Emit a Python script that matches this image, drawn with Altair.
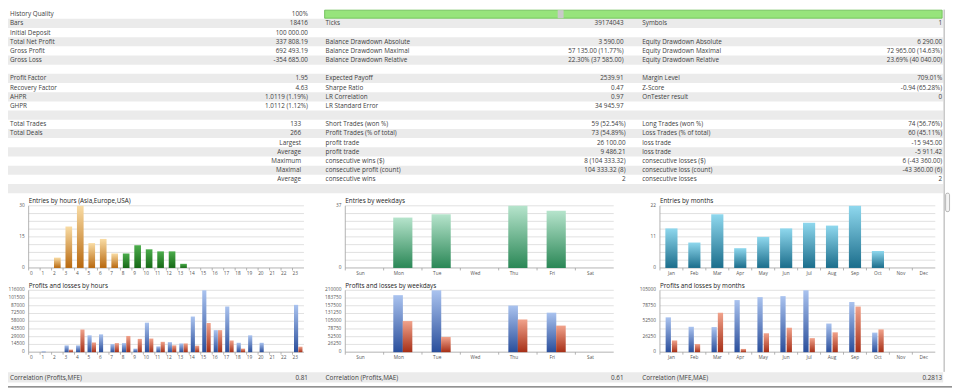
import altair as alt
import pandas as pd

# ---------------- data ----------------
history_quality = 100

col1_labels = ["History Quality", "Bars", "Initial Deposit", "Total Net Profit", "Gross Profit", "Gross Loss", "",
               "Profit Factor", "Recovery Factor", "AHPR", "GHPR", "", "Total Trades", "Total Deals",
               "", "", "", "", ""]
col1_values = ["100%", "18416", "100 000.00", "337 808.19", "692 493.19", "-354 685.00", "",
               "1.95", "4.63", "1.0119 (1.19%)", "1.0112 (1.12%)", "", "133", "266",
               "Largest", "Average", "Maximum", "Maximal", "Average"]
col2_labels = ["", "Ticks", "", "Balance Drawdown Absolute", "Balance Drawdown Maximal", "Balance Drawdown Relative", "",
               "Expected Payoff", "Sharpe Ratio", "LR Correlation", "LR Standard Error", "",
               "Short Trades (won %)", "Profit Trades (% of total)", "profit trade", "profit trade",
               "consecutive wins ($)", "consecutive profit (count)", "consecutive wins"]
col2_values = ["", "39174043", "", "3 590.00", "57 135.00 (11.77%)", "22.30% (37 585.00)", "",
               "2539.91", "0.47", "0.97", "34 945.97", "",
               "59 (52.54%)", "73 (54.89%)", "26 100.00", "9 486.21", "8 (104 333.32)", "104 333.32 (8)", "2"]
col3_labels = ["", "Symbols", "", "Equity Drawdown Absolute", "Equity Drawdown Maximal", "Equity Drawdown Relative", "",
               "Margin Level", "Z-Score", "OnTester result", "", "",
               "Long Trades (won %)", "Loss Trades (% of total)", "loss trade", "loss trade",
               "consecutive losses ($)", "consecutive loss (count)", "consecutive losses"]
col3_values = ["", "1", "", "6 290.00", "72 965.00 (14.63%)", "23.69% (40 040.00)", "",
               "709.01%", "-0.94 (65.28%)", "0", "", "",
               "74 (56.76%)", "60 (45.11%)", "-15 945.00", "-5 911.42", "6 (-43 360.00)", "-43 360.00 (6)", "2"]

corr_labels = ["Correlation (Profits,MFE)", "Correlation (Profits,MAE)", "Correlation (MFE,MAE)"]
corr_values = ["0.81", "0.61", "0.2813"]

hours = list(range(24))
hour_entries = [0, 0, 5, 20, 30, 12, 14, 7, 7, 11, 9, 8, 8, 2, 0, 0, 0, 0, 0, 0, 0, 0, 0, 0]
weekdays = ["Sun", "Mon", "Tue", "Wed", "Thu", "Fri", "Sat"]
weekday_entries = [0, 30, 32, 0, 37, 34, 0]
months = ["Jan", "Feb", "Mar", "Apr", "May", "Jun", "Jul", "Aug", "Sep", "Oct", "Nov", "Dec"]
month_entries = [14, 9, 19, 7, 11, 14, 16, 15, 22, 6, 0, 0]

hour_profit = [0, 1500, 0, 12750, 12750, 31600, 33400, 15200, 17000, 6700, 55300, 10900, 18800, 16400,
               66800, 116000, 41300, 85600, 17600, 31600, 17600, 0, 0, 88700]
hour_loss = [0, 0, 0, 4900, 42500, 18200, 0, 17000, 30400, 24900, 25500, 19400, 12800, 16400,
             12200, 54700, 41300, 21900, 6700, 0, 0, 0, 0, 10300]
weekday_profit = [0, 193500, 210000, 0, 158300, 134100, 0]
weekday_loss = [0, 105600, 51700, 0, 111000, 90200, 0]
month_profit = [59100, 43100, 42600, 88400, 93400, 95100, 105000, 48600, 85100, 33200, 0, 0]
month_loss = [19900, 13800, 66900, 5500, 32100, 41500, 23800, 33700, 77400, 38700, 0, 0]

hour_ticks = [0, 15, 30]
weekday_ticks = [0, 37]
month_ticks = [0, 11, 22]
hour_pl_ticks = [0, 14500, 29000, 43500, 58000, 72500, 87000, 101500, 116000]
weekday_pl_ticks = [0, 26250, 52500, 78750, 105000, 131250, 157500, 183750, 210000]
month_pl_ticks = [0, 26250, 52500, 78750, 105000]

# ---------------- layout ----------------
W, H = 952, 382
SX, SY = W / 960.0, H / 390.0
FONT = "Open Sans"
FS = 6.4
FS_AX = 4.8
TXT = "#404040"
ROW_H = 9.45
N_ROWS = 20


def X(v):
    return v * SX


def Y(v):
    return v * SY


row_scale = alt.Scale(type="band", domain=list(range(N_ROWS)), range=[0, Y(N_ROWS * ROW_H)],
                      paddingInner=0, paddingOuter=0)

layers = []

# alternating row shading
bg = pd.DataFrame({"row": [r for r in range(N_ROWS) if r % 2 == 1]})
layers.append(alt.Chart(bg).mark_rect(color="#ebebeb").encode(
    y=alt.Y("row:O", scale=row_scale, axis=None), x=alt.value(0), x2=alt.value(X(951))))

# history quality bar
qband = alt.Scale(type="band", domain=list(range(N_ROWS)), range=[0, Y(N_ROWS * ROW_H)],
                  paddingInner=0.12, paddingOuter=0.06)
qdf = pd.DataFrame({"row": [0], "start": [0], "quality": [history_quality]})
layers.append(alt.Chart(qdf).mark_rect(fill="#97e47c", stroke="#62b84c", strokeWidth=0.8).encode(
    y=alt.Y("row:O", scale=qband, axis=None),
    x=alt.X("start:Q", scale=alt.Scale(domain=[0, 100], range=[X(322), X(950)]), axis=None),
    x2="quality:Q"))
layers.append(alt.Chart(qdf).mark_rect(fill="#c9c9c9").encode(
    y=alt.Y("row:O", scale=qband, axis=None), x=alt.value(X(559)), x2=alt.value(X(565))))


def text_layer(rows, texts, xpos, align):
    df = pd.DataFrame({"row": rows, "t": texts})
    df = df[df["t"] != ""]
    return alt.Chart(df).mark_text(align=align, baseline="middle", font=FONT, fontSize=FS, color=TXT).encode(
        y=alt.Y("row:O", scale=row_scale, axis=None), x=alt.value(X(xpos)), text="t:N")


top_rows = list(range(12))
bot_rows = list(range(12, 19))
cols = [(col1_labels, col1_values, 2, 305, 298), (col2_labels, col2_values, 323, 626, 628),
        (col3_labels, col3_values, 645, 950, 950)]
for labs, vals, lx, vx_top, vx_bot in cols:
    layers.append(text_layer(list(range(19)), labs, lx, "left"))
    layers.append(text_layer(top_rows, vals[:12], vx_top, "right"))
    layers.append(text_layer(bot_rows, vals[12:], vx_bot, "right"))


# ---------------- charts ----------------
def band(cats, x0, x1, pad=0.0, shift=0.0):
    return alt.Scale(type="band", domain=cats, range=[X(x0 + shift), X(x1 + shift)],
                     paddingInner=pad, paddingOuter=pad / 2)


def lin(vmax, yz, ym):
    return alt.Scale(type="linear", domain=[0, vmax], range=[Y(yz), Y(ym)], nice=False, zero=True)


def grad(top, bottom):
    return alt.Gradient(gradient="linear", x1=0, x2=0, y1=0, y2=1,
                        stops=[alt.GradientStop(color=top, offset=0),
                               alt.GradientStop(color=bottom, offset=1)])


def frame(cats, ctype, xr, yz, ym, vmax, ticks, title, ylab_x, xlab_y, xlab_dx):
    out = []
    x0, x1 = xr
    ys = lin(vmax, yz, ym)
    grid = pd.DataFrame({"v": [vmax * k / 8 for k in range(1, 9)]})
    out.append(alt.Chart(grid).mark_rule(color="#d3d3d3", strokeWidth=0.7).encode(
        y=alt.Y("v:Q", scale=ys, axis=None), x=alt.value(X(x0)), x2=alt.value(X(x1))))
    base = pd.DataFrame({"lo": [0], "hi": [vmax]})
    out.append(alt.Chart(base).mark_rule(color="#a0a0a0", strokeWidth=0.8).encode(
        y=alt.Y("lo:Q", scale=ys, axis=None), x=alt.value(X(x0)), x2=alt.value(X(x1))))
    out.append(alt.Chart(base).mark_rule(color="#a0a0a0", strokeWidth=0.8).encode(
        y=alt.Y("lo:Q", scale=ys, axis=None), y2="hi:Q", x=alt.value(X(x0))))
    cdf = pd.DataFrame({"c": cats})
    out.append(alt.Chart(cdf).mark_rule(color="#a0a0a0", strokeWidth=0.8).encode(
        x=alt.X(f"c:{ctype}", scale=band(cats, x0, x1), bandPosition=0, axis=None),
        y=alt.value(Y(yz)), y2=alt.value(Y(yz) + 2.5)))
    out.append(alt.Chart(cdf).mark_text(font=FONT, fontSize=FS_AX, color="#555555", baseline="middle",
                                        dx=xlab_dx).encode(
        x=alt.X(f"c:{ctype}", scale=band(cats, x0, x1), axis=None),
        y=alt.value(Y(xlab_y)), text=f"c:{ctype}"))
    tdf = pd.DataFrame({"v": ticks})
    out.append(alt.Chart(tdf).mark_text(font=FONT, fontSize=FS_AX, color="#555555", align="right",
                                        baseline="middle").encode(
        y=alt.Y("v:Q", scale=ys, axis=None), x=alt.value(X(ylab_x)), text=alt.Text("v:Q", format="d")))
    out.append(alt.Chart(pd.DataFrame({"a": [0]})).mark_text(
        text=title, font=FONT, fontSize=FS, color="#222222", align="left", baseline="middle").encode(
        x=alt.value(X(x0)), y=alt.value(Y(ym - 4.5))))
    return out, ys


def entry_bars(cats, ctype, vals, xr, ys, pad, top, bottom, keep=None):
    df = pd.DataFrame({"c": cats, "n": vals})
    if keep is not None:
        df = df[df["c"].isin(keep)]
    df = df[df["n"] > 0]
    return alt.Chart(df).mark_bar(color=grad(top, bottom)).encode(
        x=alt.X(f"c:{ctype}", scale=band(cats, xr[0], xr[1], pad), axis=None),
        y=alt.Y("n:Q", scale=ys, axis=None))


def pl_bars(cats, ctype, vals, xr, ys, pad, shift, top, bottom):
    df = pd.DataFrame({"c": cats, "n": vals})
    df = df[df["n"] > 0]
    return alt.Chart(df).mark_bar(color=grad(top, bottom)).encode(
        x=alt.X(f"c:{ctype}", scale=band(cats, xr[0], xr[1], pad, shift), axis=None),
        y=alt.Y("n:Q", scale=ys, axis=None))


TOP_Z, TOP_M = 266.0, 202.0
BOT_Z, BOT_M = 352.7, 289.0
PX_H, PX_W, PX_M = (21, 301), (343, 616), (663, 943)

ORANGE = ("#f9dca4", "#b8680e")
GREEN = ("#4cad4c", "#166816")
MINT = ("#b6e4cc", "#2a8756")
TEAL = ("#8fd8ee", "#1b6d8b")
BLUE = ("#aac3ef", "#2a4e9b")
RED = ("#f1a38c", "#a62f17")

# Entries by hours
f, ys = frame(hours, "O", PX_H, TOP_Z, TOP_M, 30, hour_ticks, "Entries by hours (Asia,Europe,USA)", 17, 272.7, -3)
layers += f
layers.append(entry_bars(hours, "O", hour_entries, PX_H, ys, 0.42, *ORANGE, keep=list(range(0, 8))))
layers.append(entry_bars(hours, "O", hour_entries, PX_H, ys, 0.42, *GREEN, keep=list(range(8, 16))))

# Entries by weekdays
f, ys = frame(weekdays, "N", PX_W, TOP_Z, TOP_M, 37, weekday_ticks, "Entries by weekdays", 339, 272.7, -4)
layers += f
layers.append(entry_bars(weekdays, "N", weekday_entries, PX_W, ys, 0.5, *MINT))

# Entries by months
f, ys = frame(months, "N", PX_M, TOP_Z, TOP_M, 22, month_ticks, "Entries by months", 659, 272.7, 0)
layers += f
layers.append(entry_bars(months, "N", month_entries, PX_M, ys, 0.47, *TEAL))

# Profits and losses by hours
f, ys = frame(hours, "O", PX_H, BOT_Z, BOT_M, 116000, hour_pl_ticks, "Profits and losses by hours", 17, 359, -3)
layers += f
layers.append(pl_bars(hours, "O", hour_profit, PX_H, ys, 0.64, -2.2, *BLUE))
layers.append(pl_bars(hours, "O", hour_loss, PX_H, ys, 0.64, 2.2, *RED))

# Profits and losses by weekdays
f, ys = frame(weekdays, "N", PX_W, BOT_Z, BOT_M, 210000, weekday_pl_ticks, "Profits and losses by weekdays", 339, 359, -4)
layers += f
layers.append(pl_bars(weekdays, "N", weekday_profit, PX_W, ys, 0.75, -4.8, *BLUE))
layers.append(pl_bars(weekdays, "N", weekday_loss, PX_W, ys, 0.75, 4.8, *RED))

# Profits and losses by months
f, ys = frame(months, "N", PX_M, BOT_Z, BOT_M, 105000, month_pl_ticks, "Profits and losses by months", 659, 359, 0)
layers += f
layers.append(pl_bars(months, "N", month_profit, PX_M, ys, 0.77, -3.2, *BLUE))
layers.append(pl_bars(months, "N", month_loss, PX_M, ys, 0.77, 3.2, *RED))

# ---------------- correlation row & frame ----------------
one = pd.DataFrame({"a": [0]})
layers.append(alt.Chart(one).mark_rect(color="#ebebeb").encode(
    x=alt.value(0), x2=alt.value(X(951)), y=alt.value(Y(373.5)), y2=alt.value(Y(384))))
corr = pd.DataFrame({"lab": corr_labels, "val": corr_values})
for i, (lx, vx) in enumerate([(2, 305), (323, 626), (645, 950)]):
    layers.append(alt.Chart(corr.iloc[[i]]).mark_text(
        align="left", baseline="middle", font=FONT, fontSize=FS, color=TXT).encode(
        x=alt.value(X(lx)), y=alt.value(Y(378.8)), text="lab:N"))
    layers.append(alt.Chart(corr.iloc[[i]]).mark_text(
        align="right", baseline="middle", font=FONT, fontSize=FS, color=TXT).encode(
        x=alt.value(X(vx)), y=alt.value(Y(378.8)), text="val:N"))
layers.append(alt.Chart(one).mark_rule(color="#a8a8a8", strokeWidth=1).encode(
    x=alt.value(X(952)), y=alt.value(0), y2=alt.value(Y(373))))
layers.append(alt.Chart(one).mark_rect(fill="#f4f4f4", stroke="#a8a8a8", strokeWidth=0.8, cornerRadius=1.5).encode(
    x=alt.value(X(953.5)), x2=alt.value(X(957.5)), y=alt.value(Y(189)), y2=alt.value(Y(208))))
layers.append(alt.Chart(one).mark_rule(color="#6e6e6e", strokeWidth=1.2).encode(
    x=alt.value(0), x2=alt.value(W), y=alt.value(Y(388.5))))

chart = alt.layer(*layers).resolve_scale(x="independent", y="independent").properties(
    width=W, height=H, padding=0, background="white",
    autosize=alt.AutoSizeParams(type="none")
).configure_view(stroke=None)

chart.save("out.html", embed_options={"renderer": "svg", "actions": False})
